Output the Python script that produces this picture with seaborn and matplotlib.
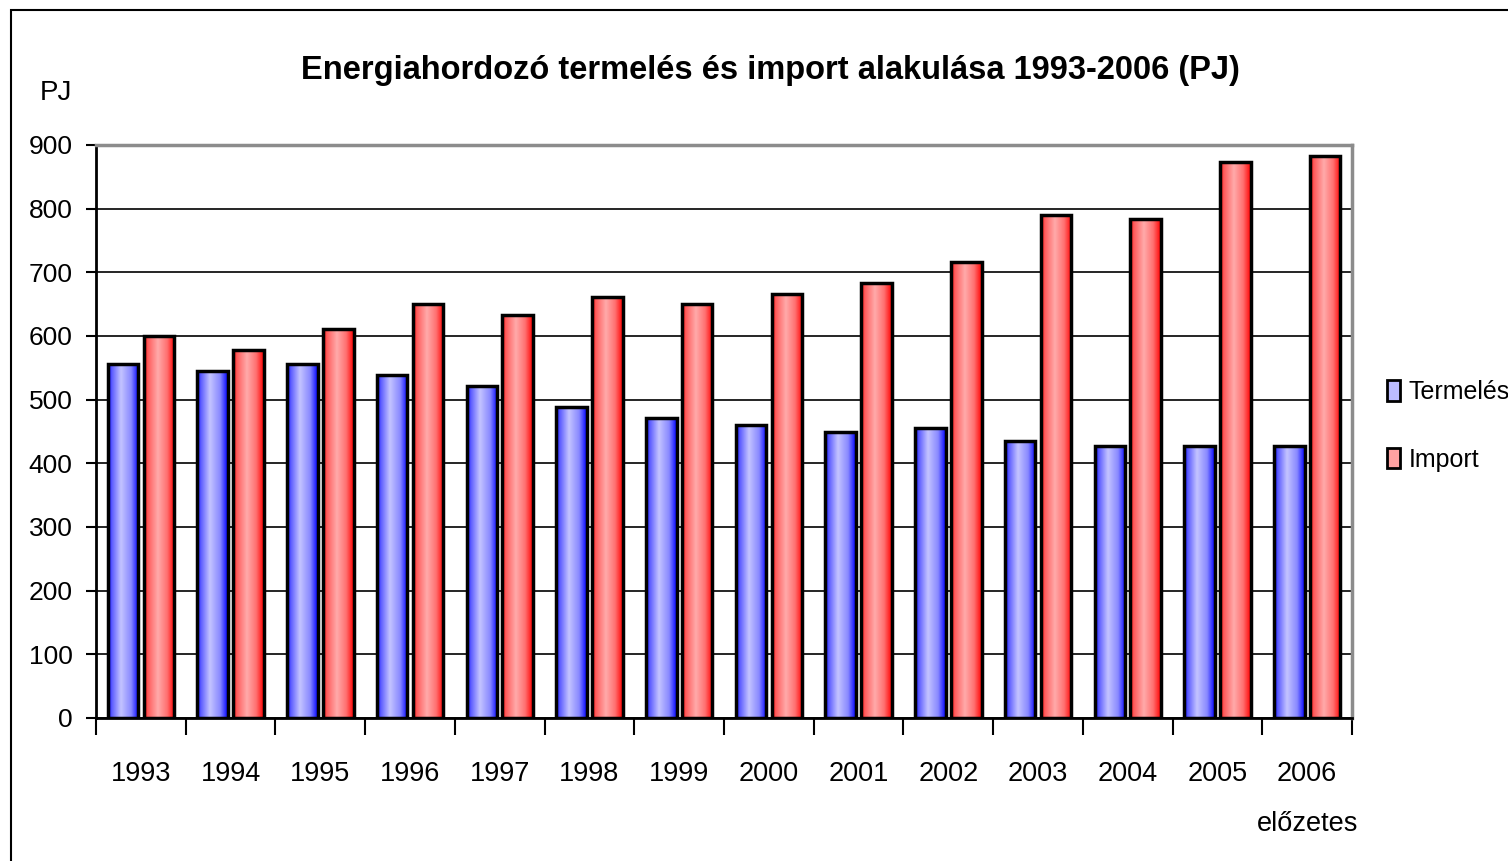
import numpy as np
import pandas as pd
import matplotlib
matplotlib.use("Agg")
import matplotlib.pyplot as plt
from matplotlib.colors import LinearSegmentedColormap
from matplotlib.patches import Rectangle
import seaborn as sns

years = ["1993", "1994", "1995", "1996", "1997", "1998", "1999",
         "2000", "2001", "2002", "2003", "2004", "2005", "2006\nelőzetes"]
termeles = [556, 545, 556, 539, 521, 488, 471, 460, 449, 455, 435, 427, 427, 427]
import_ = [600, 578, 611, 650, 633, 661, 650, 666, 683, 716, 790, 784, 873, 883]
series = ["Termelés", "Import"]
title = "Energiahordozó termelés és import alakulása 1993-2006 (PJ)"

df = pd.DataFrame({
    "year": years * 2,
    "value": termeles + import_,
    "series": [series[0]] * len(years) + [series[1]] * len(years),
})

sns.set_style("white")
plt.rcParams["font.family"] = ["Liberation Sans", "DejaVu Sans"]
plt.rcParams["text.color"] = "black"
plt.rcParams["xtick.color"] = "black"
plt.rcParams["ytick.color"] = "black"

fig = plt.figure(figsize=(15.08, 8.61), dpi=100)
ax = fig.add_axes([0.0637, 0.1661, 0.8329, 0.6655])

palette = {"Termelés": "#bcbcff", "Import": "#ffa2a2"}
sns.barplot(data=df, x="year", y="value", hue="series", hue_order=series,
            palette=palette, width=0.8, gap=0.15, edgecolor="black",
            linewidth=2, saturation=1, ax=ax, zorder=3)

# horizontal gradient fill like the old Excel bars
cmaps = [
    LinearSegmentedColormap.from_list("b", [(0, "#0000ff"), (0.12, "#5a5aff"), (0.42, "#c4c4ff"),
                                            (0.75, "#8888ff"), (1, "#0000ff")]),
    LinearSegmentedColormap.from_list("r", [(0, "#ff0000"), (0.12, "#ff5a5a"), (0.45, "#ffaaaa"),
                                            (0.75, "#ff7070"), (1, "#ff0000")]),
]
grad = np.linspace(0, 1, 256).reshape(1, -1)
for cont, cmap in zip(ax.containers, cmaps):
    for p in cont.patches:
        x0, y0 = p.get_x(), p.get_y()
        w, h = p.get_width(), p.get_height()
        im = ax.imshow(grad, cmap=cmap, aspect="auto", extent=(x0, x0 + w, y0, y0 + h),
                       zorder=3.5, interpolation="bilinear")
        im.set_clip_path(p)
        ax.add_patch(Rectangle((x0, y0), w, h, fill=False, edgecolor="black",
                               linewidth=2.5, zorder=4))

ax.set_xlim(-0.5, len(years) - 0.5)
ax.set_ylim(0, 900)
ax.set_yticks(range(0, 1000, 100))
ax.set_xlabel("")
ax.set_ylabel("")
ax.grid(axis="y", color="black", linewidth=1.2, zorder=0)
ax.set_axisbelow(True)

ax.tick_params(axis="y", labelsize=19, length=7, width=1.5, pad=10, left=True)
ax.set_xticks(np.arange(-0.5, len(years), 1), minor=True)
ax.tick_params(axis="x", which="major", length=0, labelsize=19.5, pad=31)
ax.tick_params(axis="x", which="minor", length=12, width=1.5, bottom=True)
for lab in ax.get_xticklabels():
    lab.set_linespacing(2.2)

for side in ["left", "bottom"]:
    ax.spines[side].set_color("black")
    ax.spines[side].set_linewidth(2)
for side in ["top", "right"]:
    ax.spines[side].set_color("#8c8c8c")
    ax.spines[side].set_linewidth(2.5)

fig.text(0.511, 0.918, title, ha="center", va="center", fontsize=23.5, fontweight="bold")
fig.text(0.037, 0.892, "PJ", ha="center", va="center", fontsize=20)

leg = ax.legend(loc="center left", bbox_to_anchor=(1.02, 0.51), frameon=False,
                fontsize=18, handlelength=0.5, handleheight=0.9, labelspacing=1.75,
                handletextpad=0.35, borderaxespad=0)
for h in leg.legend_handles:
    h.set_edgecolor("black")
    h.set_linewidth(2)

fig.patches.append(Rectangle((11 / 1508, -0.05), 1.1, 1 - 10 / 861 + 0.05,
                             transform=fig.transFigure, fill=False,
                             edgecolor="black", linewidth=1.5, clip_on=False))

fig.savefig("out.png", dpi=100)
